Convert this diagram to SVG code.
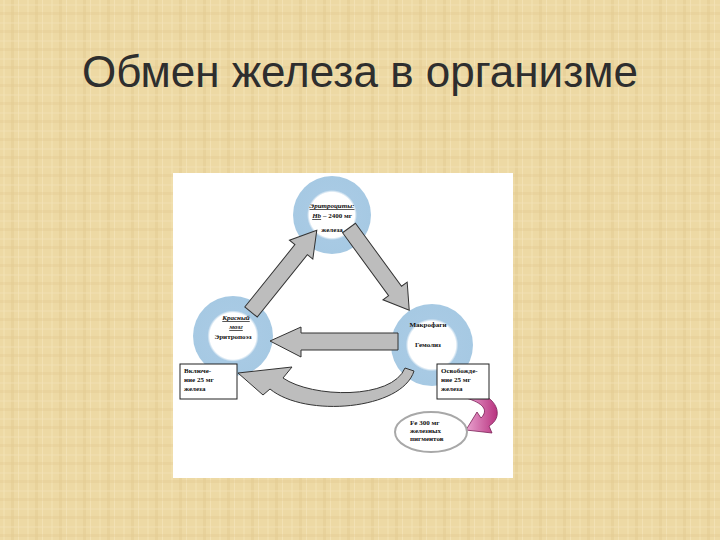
<svg xmlns="http://www.w3.org/2000/svg" width="720" height="540" viewBox="0 0 720 540">
<defs>
  <pattern id="tex" width="24" height="540" patternUnits="userSpaceOnUse">
    <rect width="24" height="540" fill="#EDD9A4"/>
    <rect x="3" width="2" height="540" fill="#F2E0B0" opacity="0.7"/>
    <rect x="11" width="3" height="540" fill="#E4CC92" opacity="0.5"/>
    <rect x="18" width="1" height="540" fill="#F5E6BC" opacity="0.6"/>
  </pattern>
  <pattern id="tex2" width="540" height="18" patternUnits="userSpaceOnUse">
    <rect y="4" width="540" height="2" fill="#F3E3B6" opacity="0.35"/>
    <rect y="12" width="540" height="3" fill="#E2C98F" opacity="0.3"/>
  </pattern>
  <radialGradient id="ring">
    <stop offset="0" stop-color="#FFFFFF"/>
    <stop offset="0.58" stop-color="#FFFFFF"/>
    <stop offset="0.64" stop-color="#A8CAE4"/>
    <stop offset="1" stop-color="#A6C9E3"/>
  </radialGradient>
  <linearGradient id="pink" x1="0" y1="0" x2="1" y2="0">
    <stop offset="0" stop-color="#E9A2CF"/>
    <stop offset="1" stop-color="#B8337F"/>
  </linearGradient>
  <style>
    .t{font-family:"Liberation Serif","Times New Roman",serif;font-weight:bold;font-size:7px;fill:#111}
    .c{text-anchor:middle}
    .u{font-style:italic;text-decoration:underline}
    .arr{fill:#BDBDBD;stroke:#333;stroke-width:1}
    .box{fill:#fff;stroke:#222;stroke-width:1}
  </style>
</defs>
<rect width="720" height="540" fill="url(#tex)"/>
<rect width="720" height="540" fill="url(#tex2)"/>
<text x="360" y="87" text-anchor="middle" font-family="Liberation Sans, Arial, sans-serif" font-size="44" fill="#2E2E2E">Обмен железа в организме</text>

<rect x="173" y="173" width="340" height="305" fill="#FFFFFF"/>

<g id="top-node">
  <circle cx="332" cy="215" r="39" fill="url(#ring)"/>
  <text class="t c u" x="332" y="208">Эритроциты:</text>
  <text class="t c" x="332" y="218"><tspan class="u">Hb</tspan> – 2400 мг</text>
  <text class="t c" x="332" y="232">железа</text>
</g>
<g id="left-node">
  <circle cx="233" cy="336" r="40" fill="url(#ring)"/>
  <text class="t c u" x="236" y="320">Красный</text>
  <text class="t c u" x="236" y="329">мозг</text>
  <text class="t c" x="233" y="339" font-size="8">Эритропоэз</text>
</g>
<g id="right-node">
  <circle cx="432" cy="345" r="41" fill="url(#ring)"/>
  <text class="t c" x="428" y="327">Макрофаги</text>
  <text class="t c" x="428" y="347">Гемолиз</text>
</g>

<g id="connectors">
  <path class="arr" transform="translate(251 312) rotate(-51.2)" d="M0 -8 L80 -8 L80 -15 L105 0 L80 15 L80 8 L0 8 Z"/>
  <path class="arr" transform="translate(349 228) rotate(53.8)" d="M0 -8 L78 -8 L78 -15 L102 0 L78 15 L78 8 L0 8 Z"/>
  <path class="arr" d="M398 333 L301 333 L301 327 L270 341 L301 357 L301 350 L398 350 Z"/>
  <path class="arr" d="M414 371 C402 410 305 418 270 389 L263 395 L238 373 L292 367 L283 378 C312 398 392 400 405 368 Z"/>
  <path d="M479 393 C499 400 503 418 489 426 L492 433 L466 430 L477 412 L481 418 C489 410 483 403 466 398 Z" fill="url(#pink)" stroke="#7A1F55" stroke-width="0.8"/>
</g>

<g id="left-box">
  <rect class="box" x="180" y="364" width="57" height="35"/>
  <text class="t" x="184" y="373">Включе-</text>
  <text class="t" x="184" y="382">ние 25 мг</text>
  <text class="t" x="184" y="391">железа</text>
</g>
<g id="right-box">
  <rect class="box" x="437" y="364" width="52" height="35"/>
  <text class="t" x="441" y="373">Освобожде-</text>
  <text class="t" x="441" y="382">ние 25 мг</text>
  <text class="t" x="441" y="391">железа</text>
</g>
<g id="pigment-node">
  <ellipse cx="431" cy="432" rx="36" ry="20" fill="#fff" stroke="#A8A8A8" stroke-width="2"/>
  <text class="t" x="410" y="425">Fe 300 мг</text>
  <text class="t" x="410" y="433">железных</text>
  <text class="t" x="410" y="441">пигментов</text>
</g>
</svg>
